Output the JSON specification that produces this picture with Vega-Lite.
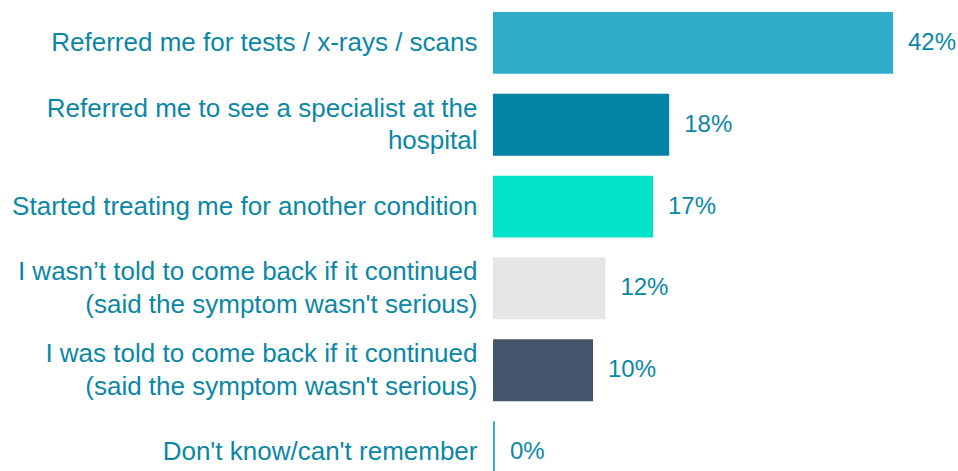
{
  "$schema": "https://vega.github.io/schema/vega-lite/v6.json",
  "autosize": "none",
  "width": 400,
  "height": 459,
  "padding": {"left": 493, "top": 12, "right": 65, "bottom": 0},
  "background": "white",
  "config": {"view": {"stroke": null}, "font": "Liberation Sans"},
  "data": {
    "values": [
      {"category": "Referred me for tests / x-rays / scans", "value": 42.0, "label": "42%"},
      {"category": "Referred me to see a specialist at the|hospital", "value": 18.5, "label": "18%"},
      {"category": "Started treating me for another condition", "value": 16.8, "label": "17%"},
      {"category": "I wasn’t told to come back if it continued|(said the symptom wasn't serious)", "value": 11.8, "label": "12%"},
      {"category": "I was told to come back if it continued|(said the symptom wasn't serious)", "value": 10.5, "label": "10%"},
      {"category": "Don't know/can't remember", "value": 0.2, "label": "0%"}
    ]
  },
  "encoding": {
    "y": {
      "field": "category",
      "type": "nominal",
      "sort": null,
      "scale": {"range": [0, 471], "paddingInner": 0.244, "paddingOuter": 0},
      "axis": {
        "title": null,
        "domain": false,
        "ticks": false,
        "labelPadding": 16,
        "labelLimit": 0,
        "labelFontSize": 26,
        "labelColor": "#0B87A6",
        "labelLineHeight": 32.5,
        "labelFont": "Liberation Sans",
        "labelOffset": {"condition": {"test": "indexof(datum.value, '|') >= 0", "value": -16}, "value": 0},
        "labelExpr": "split(datum.value, '|')"
      }
    },
    "x": {
      "field": "value",
      "type": "quantitative",
      "scale": {"domain": [0, 42], "nice": false},
      "axis": null
    }
  },
  "layer": [
    {
      "mark": {"type": "bar"},
      "encoding": {
        "color": {
          "field": "category",
          "type": "nominal",
          "legend": null,
          "scale": {
            "domain": [
              "Referred me for tests / x-rays / scans",
              "Referred me to see a specialist at the|hospital",
              "Started treating me for another condition",
              "I wasn’t told to come back if it continued|(said the symptom wasn't serious)",
              "I was told to come back if it continued|(said the symptom wasn't serious)",
              "Don't know/can't remember"
            ],
            "range": ["#2EACC9", "#0384A4", "#00E3C8", "#E5E5E5", "#44546A", "#2EACC9"]
          }
        }
      }
    },
    {
      "mark": {"type": "text", "align": "left", "baseline": "middle", "dx": 15, "fontSize": 24, "color": "#0B87A6", "font": "Liberation Sans"},
      "encoding": {"text": {"field": "label"}}
    }
  ]
}
